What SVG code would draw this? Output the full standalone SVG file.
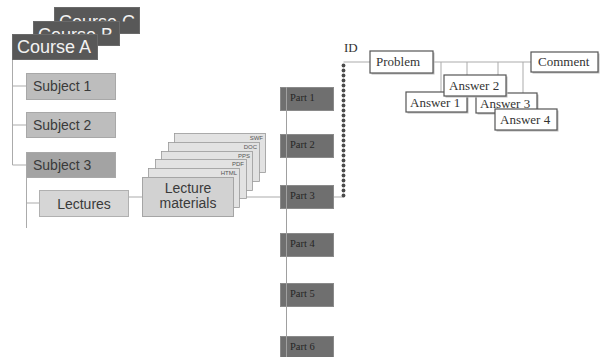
<svg xmlns="http://www.w3.org/2000/svg" width="608" height="357" viewBox="0 0 608 357">
<defs>
<style>
.course rect{fill:#585858;stroke:#6a6a6a;stroke-width:1}
.course text{font-family:"Liberation Sans",Arial,sans-serif;font-size:18px;fill:#f2f2f2}
.subj rect{fill:#bdbdbd;stroke:#a8a8a8;stroke-width:1}
.subj text,.lec text{font-family:"Liberation Sans",Arial,sans-serif;font-size:14px;fill:#3a3a3a}
.card rect{fill:#e2e2e2;stroke:#9a9a9a;stroke-width:0.8}
.card text{font-family:"Liberation Sans",Arial,sans-serif;font-size:6px;fill:#555;text-anchor:end}
.part rect{fill:#6f6f6f;stroke:#8a8a8a;stroke-width:1}
.part text{font-family:"Liberation Serif","Times New Roman",serif;font-size:10.5px;fill:#262626}
.qa rect.s{fill:#bbb;stroke:none}
.qa rect.b{fill:#fff;stroke:#555;stroke-width:1.2}
.qa text{font-family:"Liberation Serif","Times New Roman",serif;font-size:13px;fill:#333}
.ln{stroke:#ababab;stroke-width:1;fill:none}
</style>
<pattern id="dots" x="341" y="63" width="5" height="5" patternUnits="userSpaceOnUse">
<circle cx="2.5" cy="2.5" r="1.9" fill="#4a4a4a"/>
</pattern>
<clipPath id="clipC"><path d="M54 7 H140 V21.5 H119.5 V34 H54 Z"/></clipPath>
<clipPath id="clipB"><path d="M33 21 H120 V34.5 H98 V46 H33 Z"/></clipPath>
</defs>
<rect width="608" height="357" fill="#fff"/>

<g id="connectors">
<path class="ln" d="M12.5 59 V165 M12.5 86 H26 M12.5 125 H26 M12.5 165 H26"/>
<path class="ln" d="M26.5 177 V228 M26.5 203 H39"/>
<path class="ln" d="M129 197 H142 M238 197 H280"/>
<path class="ln" d="M333 197 H343.5 M343.5 62 H370 M433 62 H531"/>
<path class="ln" d="M441 62 V92 M467 62 V75 M498 62 V93 M523 62 V93"/>
</g>

<g id="course-c" class="course"><rect x="54.5" y="7.5" width="85" height="26"/><text x="59" y="28" clip-path="url(#clipC)">Course C</text></g>
<g id="course-b" class="course"><rect x="33.5" y="21.5" width="86" height="24"/><text x="38" y="41" clip-path="url(#clipB)">Course B</text></g>
<g id="course-a" class="course"><rect x="12.5" y="34.5" width="85" height="25"/><text x="17" y="53">Course A</text></g>

<g id="subject-1" class="subj"><rect x="26.5" y="73.5" width="89" height="26"/><text x="33" y="91">Subject 1</text></g>
<g id="subject-2" class="subj"><rect x="26.5" y="112.5" width="89" height="25"/><text x="33" y="130">Subject 2</text></g>
<g id="subject-3" class="subj"><rect x="26.5" y="152.5" width="89" height="25" style="fill:#a3a3a3"/><text x="33" y="170">Subject 3</text></g>

<g id="lectures" class="lec"><rect x="39.5" y="190.5" width="89" height="26" fill="#d6d6d6" stroke="#b0b0b0"/><text x="84" y="209" text-anchor="middle">Lectures</text></g>

<g id="card-swf" class="card"><rect x="174.5" y="133.5" width="91" height="39"/><text x="263" y="140">SWF</text></g>
<g id="card-doc" class="card"><rect x="168.5" y="142.5" width="91" height="39"/><text x="257" y="149">DOC</text></g>
<g id="card-pps" class="card"><rect x="161.5" y="151.5" width="91" height="39"/><text x="250" y="158">PPS</text></g>
<g id="card-pdf" class="card"><rect x="155.5" y="159.5" width="91" height="39"/><text x="244" y="166">PDF</text></g>
<g id="card-html" class="card"><rect x="148.5" y="168.5" width="91" height="39"/><text x="237" y="175">HTML</text></g>
<g id="lecture-materials" class="lec"><rect x="142.5" y="177.5" width="91" height="39" fill="#d2d2d2" stroke="#a5a5a5"/><text x="188" y="193" text-anchor="middle">Lecture</text><text x="188" y="208" text-anchor="middle">materials</text></g>

<g id="part-1" class="part"><rect x="280.5" y="87.5" width="53" height="23"/><text x="290" y="101">Part 1</text></g>
<g id="part-2" class="part"><rect x="280.5" y="134.5" width="53" height="23"/><text x="290" y="148">Part 2</text></g>
<g id="part-3" class="part"><rect x="280.5" y="185.5" width="53" height="23"/><text x="290" y="199">Part 3</text></g>
<g id="part-4" class="part"><rect x="280.5" y="233.5" width="53" height="23"/><text x="290" y="247">Part 4</text></g>
<g id="part-5" class="part"><rect x="280.5" y="283.5" width="53" height="23"/><text x="290" y="297">Part 5</text></g>
<g id="part-6" class="part"><rect x="280.5" y="336.5" width="53" height="23"/><text x="290" y="350">Part 6</text></g>
<path class="ln" d="M286.5 87 V357" style="stroke:#a0a0a0"/>

<g id="id-list">
<rect x="341" y="63" width="5" height="135" fill="url(#dots)"/>
<text x="344" y="52" font-family="'Liberation Serif','Times New Roman',serif" font-size="13" fill="#333">ID</text>
</g>

<g id="problem" class="qa"><rect class="s" x="371.5" y="52.5" width="63" height="22"/><rect class="b" x="370" y="51" width="63" height="22"/><text x="376" y="66">Problem</text></g>
<g id="comment" class="qa"><rect class="s" x="532.5" y="53.5" width="67" height="20"/><rect class="b" x="531" y="52" width="67" height="20"/><text x="538" y="66">Comment</text></g>
<g id="answer-1" class="qa"><rect class="s" x="407.5" y="93.5" width="61" height="20"/><rect class="b" x="406" y="92" width="61" height="20"/><text x="410" y="107">Answer 1</text></g>
<g id="answer-3" class="qa"><rect class="s" x="477.5" y="94.5" width="61" height="20"/><rect class="b" x="476" y="93" width="61" height="20"/><text x="480" y="108">Answer 3</text></g>
<g id="answer-2" class="qa"><rect class="s" x="445.5" y="76.5" width="62" height="21"/><rect class="b" x="444" y="75" width="62" height="21"/><text x="449" y="90">Answer 2</text></g>
<g id="answer-4" class="qa"><rect class="s" x="496.5" y="110.5" width="62" height="21"/><rect class="b" x="495" y="109" width="62" height="21"/><text x="500" y="124">Answer 4</text></g>
</svg>
